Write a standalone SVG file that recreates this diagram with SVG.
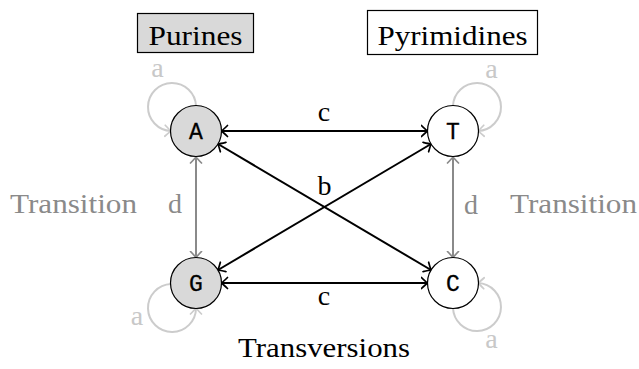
<svg xmlns="http://www.w3.org/2000/svg" width="639" height="369" viewBox="0 0 639 369">
<style>
.serif{font-family:"Liberation Serif","Times New Roman",serif;font-size:28px;fill:#000}
.mono{font-family:"Liberation Mono","DejaVu Sans Mono",monospace;font-size:23px;fill:#000;text-anchor:middle;stroke:#000;stroke-width:0.3}
.gray{fill:#8a8a8a}
.light{fill:#c8c8c8}
.node{stroke:#000;stroke-width:1.2}
.edge{fill:none;stroke:#000;stroke-width:2}
.gedge{fill:none;stroke:#8a8a8a;stroke-width:2}
.loop{fill:none;stroke:#cccccc;stroke-width:2}
</style>
<defs>
<marker id="ab" viewBox="-7 -7 9 14" markerWidth="9" markerHeight="14" refX="0" refY="0" orient="auto-start-reverse" markerUnits="userSpaceOnUse">
<path d="M-6,-5.5 Q-1.5,-1.2 0,0 Q-1.5,1.2 -6,5.5" fill="none" stroke="#000" stroke-width="1.7" stroke-linecap="round"/>
</marker>
<marker id="ag" viewBox="-7 -7 9 14" markerWidth="9" markerHeight="14" refX="0" refY="0" orient="auto-start-reverse" markerUnits="userSpaceOnUse">
<path d="M-6,-5.5 Q-1.5,-1.2 0,0 Q-1.5,1.2 -6,5.5" fill="none" stroke="#8a8a8a" stroke-width="1.7" stroke-linecap="round"/>
</marker>
<marker id="al" viewBox="-7 -7 9 14" markerWidth="9" markerHeight="14" refX="0" refY="0" orient="auto" markerUnits="userSpaceOnUse">
<path d="M-6,-5.5 Q-1.5,-1.2 0,0 Q-1.5,1.2 -6,5.5" fill="none" stroke="#cccccc" stroke-width="1.7" stroke-linecap="round"/>
</marker>
</defs>
<g id="labels">
<g id="purines"><rect x="137.5" y="13.5" width="116" height="39" fill="#d9d9d9" stroke="#000" stroke-width="1.2"/><text class="serif" x="195.5" y="45" text-anchor="middle" textLength="94" lengthAdjust="spacingAndGlyphs">Purines</text></g>
<g id="pyrimidines"><rect x="367.5" y="10.5" width="170" height="44" fill="#fff" stroke="#000" stroke-width="1.2"/><text class="serif" x="452.5" y="45" text-anchor="middle" textLength="150" lengthAdjust="spacingAndGlyphs">Pyrimidines</text></g>
<text class="serif gray" x="10" y="213" textLength="127" lengthAdjust="spacingAndGlyphs">Transition</text>
<text class="serif gray" x="510" y="213" textLength="127" lengthAdjust="spacingAndGlyphs">Transition</text>
<text class="serif" x="324" y="357" text-anchor="middle" textLength="172" lengthAdjust="spacingAndGlyphs">Transversions</text>
</g>
<g id="connectors">
<path class="loop" d="M196,106 A24,24 0 1 0 171,131" marker-end="url(#al)"/>
<path class="loop" d="M453,106 A24,24 0 1 1 478,131" marker-end="url(#al)"/>
<path class="loop" d="M171,284 A24,24 0 1 0 196,308" marker-end="url(#al)"/>
<path class="loop" d="M453,308 A24,24 0 1 0 478,283" marker-end="url(#al)"/>
<line class="edge" x1="221.5" y1="131" x2="427.5" y2="131" marker-start="url(#ab)" marker-end="url(#ab)"/>
<line class="edge" x1="221.5" y1="283" x2="427.5" y2="283" marker-start="url(#ab)" marker-end="url(#ab)"/>
<line class="edge" x1="218" y1="144" x2="431" y2="270" marker-start="url(#ab)" marker-end="url(#ab)"/>
<line class="edge" x1="431" y1="144" x2="218" y2="270" marker-start="url(#ab)" marker-end="url(#ab)"/>
<line class="gedge" x1="196" y1="157" x2="196" y2="257.5" marker-start="url(#ag)" marker-end="url(#ag)"/>
<line class="gedge" x1="453" y1="157" x2="453" y2="257.5" marker-start="url(#ag)" marker-end="url(#ag)"/>
<text class="serif" x="324" y="121" text-anchor="middle">c</text>
<text class="serif" x="324" y="305" text-anchor="middle">c</text>
<text class="serif" x="324.5" y="195" text-anchor="middle">b</text>
<text class="serif gray" x="175" y="213" text-anchor="middle">d</text>
<text class="serif gray" x="471" y="214" text-anchor="middle">d</text>
<text class="serif light" x="157.5" y="77" text-anchor="middle">a</text>
<text class="serif light" x="491.5" y="78" text-anchor="middle">a</text>
<text class="serif light" x="137" y="325" text-anchor="middle">a</text>
<text class="serif light" x="491.5" y="348" text-anchor="middle">a</text>
</g>
<g id="A"><circle class="node" cx="196" cy="131" r="25.5" fill="#d9d9d9"/><text class="mono" x="196" y="139">A</text></g>
<g id="T"><circle class="node" cx="453" cy="131" r="25.5" fill="#fff"/><text class="mono" x="453" y="139">T</text></g>
<g id="G"><circle class="node" cx="196" cy="283" r="25.5" fill="#d9d9d9"/><text class="mono" x="196" y="291">G</text></g>
<g id="C"><circle class="node" cx="453" cy="283" r="25.5" fill="#fff"/><text class="mono" x="453" y="291">C</text></g>
</svg>
